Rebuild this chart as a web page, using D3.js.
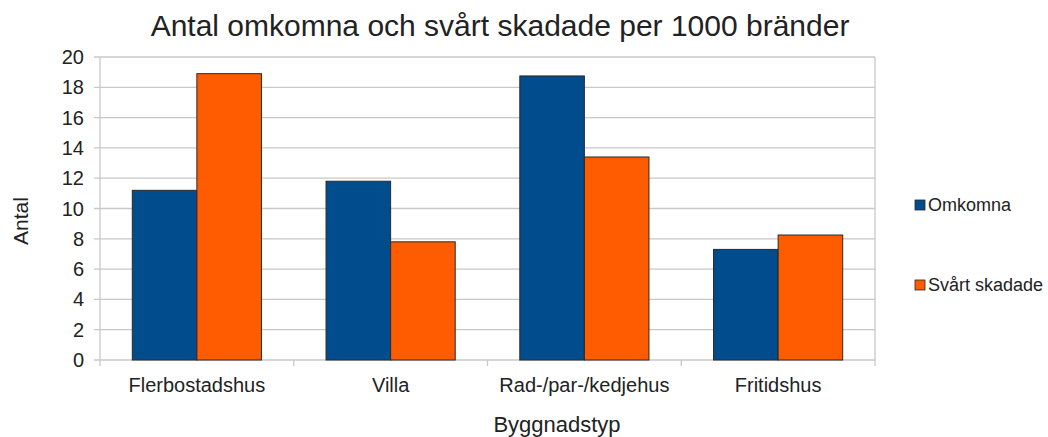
<!DOCTYPE html>
<html>
<head>
<meta charset="utf-8">
<script src="https://cdn.jsdelivr.net/npm/d3@7"></script>
<style>
  body { margin: 0; background: #fff; }
  text { font-family: "Liberation Sans", Arial, sans-serif; fill: #222; }
</style>
</head>
<body>
<div class="canvas"></div>
<script>
const categories = ['Flerbostadshus', 'Villa', 'Rad-/par-/kedjehus', 'Fritidshus'];
const seriesNames = ['Omkomna', 'Svårt skadade'];
const omkomna = [11.2, 11.8, 18.75, 7.3];
const svartSkadade = [18.9, 7.8, 13.4, 8.25];
const yTicks = [0, 2, 4, 6, 8, 10, 12, 14, 16, 18, 20];
const colors = ['#004c8c', '#ff5b00'];

const width = 1048, height = 437;
const margin = { top: 57, right: 173, bottom: 77, left: 100 };
const graphWidth = width - margin.left - margin.right;
const graphHeight = height - margin.top - margin.bottom;

const svg = d3.select('.canvas')
  .append('svg')
  .attr('width', width)
  .attr('height', height);

const graph = svg.append('g')
  .attr('transform', `translate(${margin.left}, ${margin.top})`);

const x = d3.scaleBand()
  .domain(categories)
  .range([0, graphWidth]);

const x1 = d3.scaleBand()
  .domain(seriesNames)
  .range([0, x.bandwidth()])
  .paddingOuter(0.5);

const y = d3.scaleLinear()
  .domain([0, 20])
  .range([graphHeight, 0]);

// grid lines
graph.append('g')
  .selectAll('line')
  .data(yTicks)
  .enter()
  .append('line')
  .attr('x1', -6)
  .attr('x2', graphWidth)
  .attr('y1', d => y(d))
  .attr('y2', d => y(d))
  .attr('stroke', '#c8c8c8')
  .attr('stroke-width', 1.3);

// right border
graph.append('line')
  .attr('x1', graphWidth).attr('x2', graphWidth)
  .attr('y1', 0).attr('y2', graphHeight)
  .attr('stroke', '#c8c8c8').attr('stroke-width', 1.3);

// left axis line
graph.append('line')
  .attr('x1', 0).attr('x2', 0)
  .attr('y1', 0).attr('y2', graphHeight + 6)
  .attr('stroke', '#c8c8c8').attr('stroke-width', 1.3);

// category ticks
graph.append('g')
  .selectAll('line')
  .data(categories.slice(1).map(c => x(c)).concat([graphWidth]))
  .enter()
  .append('line')
  .attr('x1', d => d).attr('x2', d => d)
  .attr('y1', graphHeight).attr('y2', graphHeight + 6)
  .attr('stroke', '#c8c8c8').attr('stroke-width', 1.3);

// y tick labels
graph.append('g')
  .selectAll('text')
  .data(yTicks)
  .enter()
  .append('text')
  .attr('x', -16)
  .attr('y', d => y(d))
  .attr('dy', '0.35em')
  .attr('text-anchor', 'end')
  .attr('font-size', 20)
  .text(d => d);

// x tick labels
graph.append('g')
  .selectAll('text')
  .data(categories)
  .enter()
  .append('text')
  .attr('x', d => x(d) + x.bandwidth() / 2)
  .attr('y', graphHeight + 32)
  .attr('text-anchor', 'middle')
  .attr('font-size', 20)
  .text(d => d);

// bars
const rows = categories.map((c, i) => ({ cat: c, values: [omkomna[i], svartSkadade[i]] }));

graph.selectAll('g.cat')
  .data(rows)
  .enter()
  .append('g')
  .attr('class', 'cat')
  .attr('transform', d => `translate(${x(d.cat)}, 0)`)
  .selectAll('rect')
  .data(d => d.values.map((v, i) => ({ name: seriesNames[i], value: v, i })))
  .enter()
  .append('rect')
  .attr('x', d => x1(d.name))
  .attr('width', x1.bandwidth())
  .attr('y', d => y(d.value))
  .attr('height', d => graphHeight - y(d.value))
  .attr('fill', d => colors[d.i])
  .attr('stroke', '#2a2a2a')
  .attr('stroke-width', 1);

// title
svg.append('text')
  .attr('x', 500)
  .attr('y', 36)
  .attr('text-anchor', 'middle')
  .attr('font-size', 30)
  .text('Antal omkomna och svårt skadade per 1000 bränder');

// axis titles
svg.append('text')
  .attr('x', 557)
  .attr('y', 432)
  .attr('text-anchor', 'middle')
  .attr('font-size', 22)
  .text('Byggnadstyp');

svg.append('text')
  .attr('transform', 'translate(28, 221) rotate(-90)')
  .attr('text-anchor', 'middle')
  .attr('font-size', 21)
  .text('Antal');

// legend
const legend = svg.append('g')
  .selectAll('g')
  .data(seriesNames)
  .enter()
  .append('g')
  .attr('transform', (d, i) => `translate(915, ${205 + i * 80})`);

legend.append('rect')
  .attr('x', 0).attr('y', -5)
  .attr('width', 10).attr('height', 10)
  .attr('fill', (d, i) => colors[i])
  .attr('stroke', '#2a2a2a').attr('stroke-width', 0.8);

legend.append('text')
  .attr('x', 13)
  .attr('y', 0)
  .attr('dy', '0.35em')
  .attr('font-size', 18)
  .text(d => d);
</script>
</body>
</html>
